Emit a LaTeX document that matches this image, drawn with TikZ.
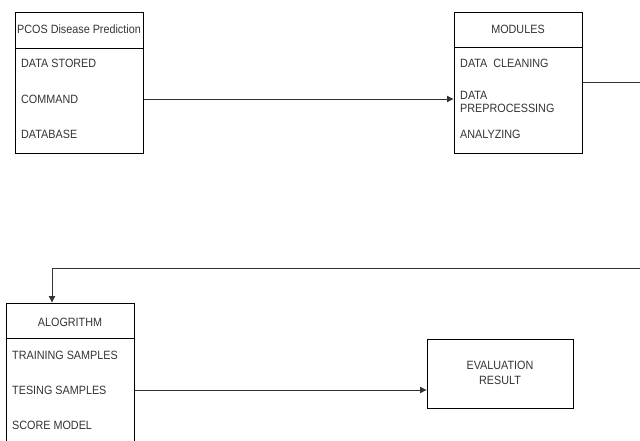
\documentclass[tikz,border=0pt]{standalone}
\usepackage{fontspec}
\setmainfont{Liberation Sans}[FakeStretch=0.9]
\usetikzlibrary{arrows.meta}

\tikzset{
  box/.style={draw=black, line width=0.9pt, rectangle, anchor=north west, inner sep=0pt},
  head/.style={font=\fontsize{12}{15}\selectfont, text=black!80, anchor=center},
  row/.style={font=\fontsize{12}{13.5}\selectfont, text=black!80, anchor=west, align=left, inner sep=0pt},
  link/.style={draw=black!80, line width=0.9pt, -{Latex[length=7pt,width=7pt]}}
}

\begin{document}
\begin{tikzpicture}[x=1pt,y=-1pt]

\clip (0,0) rectangle (640,441);
\useasboundingbox (0,0) rectangle (640,441);

% Boxen
\node[box, minimum width=128pt, minimum height=141pt] (Pcos) at (15,12) {};
\draw[line width=0.9pt] (15,48) -- (143,48);
\node[head] (PcosHead) at (79,29) {PCOS Disease Prediction};
\node[row] (Stored) at (21,63) {DATA STORED};
\node[row] (Command) at (21,99) {COMMAND};
\node[row] (Database) at (21,134) {DATABASE};

\node[box, minimum width=128pt, minimum height=141pt] (Modules) at (454,12) {};
\draw[line width=0.9pt] (454,47) -- (582,47);
\node[head] (ModulesHead) at (518,29) {MODULES};
\node[row] (Cleaning) at (460,63) {DATA\ \ CLEANING};
\node[row] (Preproc) at (460,102) {DATA\\PREPROCESSING};
\node[row] (Analyzing) at (460,134) {ANALYZING};

\node[box, minimum width=128pt, minimum height=150pt] (Algorithm) at (6,303) {};
\draw[line width=0.9pt] (6,338) -- (134,338);
\node[head] (AlgorithmHead) at (70,322) {ALOGRITHM};
\node[row] (Training) at (12,355) {TRAINING SAMPLES};
\node[row] (Testing) at (12,390) {TESING SAMPLES};
\node[row] (Score) at (12,425) {SCORE MODEL};

\node[box, minimum width=146pt, minimum height=69pt] (Evaluation) at (427,339) {};
\node[head, align=center] (EvalText) at (500,373) {EVALUATION\\RESULT};

% Pfeile
\coordinate (TurnRight) at (650,268);
\coordinate (TurnLeft) at (52,268);
\draw[link] (Pcos.east |- Command) -- (Modules.west |- Command);
\draw[link] (Modules.east |- 0,82) -| (TurnRight) -- (TurnLeft) -- (Algorithm.north -| TurnLeft);
\draw[link] (Algorithm.east |- Testing) -- (Evaluation.west |- Testing);

\end{tikzpicture}
\end{document}
